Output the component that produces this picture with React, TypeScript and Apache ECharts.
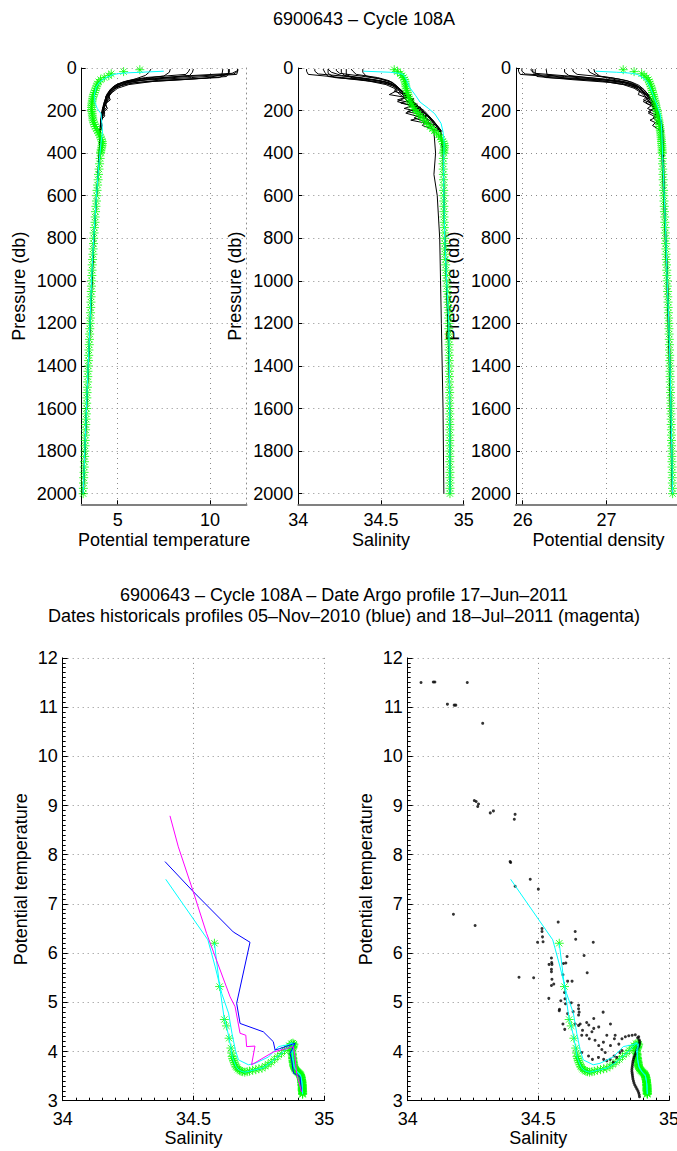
import React, { useEffect, useRef } from 'react';
import * as echarts from 'echarts';

// ---------- tick values ----------
const pressureTicks = [0, 200, 400, 600, 800, 1000, 1200, 1400, 1600, 1800, 2000];
const tempTicks = [5, 10];
const salTicks = [34, 34.5, 35];
const densTicks = [26, 27];

// ---------- Argo profile (green stars) ----------
const argoP = [8, 17, 27, 36, 45, 55, 65, 75, 85, 95,
  105, 115, 125, 135, 145, 155, 165, 175, 185, 195,
  205, 215, 225, 235, 245, 255, 265, 275, 285, 295,
  305, 315, 325, 335, 345, 355, 365, 375, 385, 395,
  400, 425, 450, 475, 500, 525, 550, 575, 600, 625,
  650, 675, 700, 725, 750, 775, 800, 825, 850, 875,
  900, 925, 950, 975, 1000, 1025, 1050, 1075, 1100, 1125,
  1150, 1175, 1200, 1225, 1250, 1275, 1300, 1325, 1350, 1375,
  1400, 1425, 1450, 1475, 1500, 1525, 1550, 1575, 1600, 1625,
  1650, 1675, 1700, 1725, 1750, 1775, 1800, 1825, 1850, 1875,
  1900, 1925, 1950, 1975, 2000];
const argoT = [6.20, 5.32, 4.65, 4.52, 4.27, 4.07, 3.97, 3.90, 3.86, 3.82,
  3.78, 3.74, 3.70, 3.67, 3.64, 3.62, 3.60, 3.59, 3.58, 3.59,
  3.60, 3.62, 3.63, 3.65, 3.66, 3.70, 3.74, 3.78, 3.84, 3.90,
  3.96, 4.02, 4.07, 4.12, 4.16, 4.17, 4.15, 4.13, 4.10, 4.08,
  4.07, 4.05, 4.02, 3.99, 3.96, 3.94, 3.91, 3.88, 3.86, 3.85,
  3.82, 3.80, 3.78, 3.77, 3.74, 3.72, 3.70, 3.69, 3.67, 3.66,
  3.64, 3.62, 3.61, 3.60, 3.59, 3.58, 3.57, 3.56, 3.55, 3.54,
  3.53, 3.52, 3.51, 3.49, 3.48, 3.47, 3.46, 3.44, 3.43, 3.42,
  3.41, 3.39, 3.38, 3.37, 3.36, 3.34, 3.33, 3.32, 3.31, 3.30,
  3.29, 3.27, 3.26, 3.25, 3.24, 3.23, 3.22, 3.21, 3.20, 3.19,
  3.18, 3.16, 3.15, 3.14, 3.13];
const argoS = [34.580, 34.600, 34.618, 34.626, 34.636, 34.643, 34.646, 34.648, 34.650, 34.653,
  34.656, 34.659, 34.662, 34.666, 34.670, 34.676, 34.682, 34.688, 34.696, 34.705,
  34.714, 34.726, 34.738, 34.750, 34.762, 34.774, 34.785, 34.797, 34.810, 34.822,
  34.836, 34.848, 34.858, 34.866, 34.874, 34.880, 34.884, 34.883, 34.881, 34.879,
  34.879, 34.877, 34.875, 34.876, 34.877, 34.878, 34.878, 34.879, 34.879, 34.880,
  34.880, 34.881, 34.881, 34.882, 34.883, 34.883, 34.884, 34.885, 34.886, 34.887,
  34.889, 34.891, 34.893, 34.895, 34.897, 34.899, 34.901, 34.903, 34.905, 34.907,
  34.908, 34.909, 34.910, 34.910, 34.911, 34.911, 34.912, 34.912, 34.913, 34.913,
  34.914, 34.914, 34.914, 34.914, 34.915, 34.915, 34.915, 34.915, 34.915, 34.916,
  34.916, 34.916, 34.916, 34.916, 34.916, 34.916, 34.916, 34.916, 34.916, 34.917,
  34.917, 34.917, 34.917, 34.917, 34.917];
const argoD = [27.20, 27.33, 27.42, 27.45, 27.48, 27.50, 27.51, 27.52, 27.53, 27.54,
  27.545, 27.55, 27.56, 27.565, 27.57, 27.58, 27.585, 27.59, 27.595, 27.60,
  27.605, 27.61, 27.615, 27.62, 27.625, 27.63, 27.633, 27.636, 27.64, 27.643,
  27.646, 27.649, 27.652, 27.655, 27.657, 27.659, 27.661, 27.663, 27.664, 27.665,
  27.665, 27.667, 27.67, 27.672, 27.675, 27.677, 27.68, 27.682, 27.685, 27.687,
  27.69, 27.692, 27.695, 27.697, 27.70, 27.702, 27.705, 27.707, 27.71, 27.712,
  27.715, 27.717, 27.72, 27.722, 27.725, 27.727, 27.73, 27.732, 27.735, 27.737,
  27.74, 27.742, 27.745, 27.746, 27.748, 27.75, 27.752, 27.753, 27.755, 27.756,
  27.758, 27.759, 27.76, 27.762, 27.763, 27.765, 27.766, 27.768, 27.769, 27.77,
  27.772, 27.773, 27.775, 27.776, 27.777, 27.778, 27.78, 27.781, 27.782, 27.784,
  27.785, 27.786, 27.787, 27.789, 27.79];

// ---------- reference (cyan) profile ----------
const climP = [15, 20, 22, 25, 30, 45, 65, 90, 130, 160, 190, 215, 260, 300, 350, 450, 600, 800, 1000, 1200, 1500, 1750, 2000];
const climT = [7.50, 6.27, 5.72, 5.18, 4.78, 4.37, 4.03, 3.83, 3.73, 3.76, 3.89, 4.10, 4.14, 4.18, 4.10, 3.98, 3.85, 3.70, 3.58, 3.50, 3.35, 3.24, 3.13];
const climS = [34.394, 34.555, 34.583, 34.608, 34.634, 34.647, 34.66, 34.672, 34.71, 34.736, 34.787, 34.825, 34.863, 34.875, 34.882, 34.879, 34.88, 34.885, 34.897, 34.91, 34.915, 34.916, 34.917];
const climD = [26.87, 27.12, 27.22, 27.30, 27.37, 27.43, 27.49, 27.52, 27.56, 27.59, 27.62, 27.64, 27.655, 27.66, 27.665, 27.675, 27.69, 27.71, 27.725, 27.745, 27.765, 27.778, 27.79];

// ---------- historical profiles (black lines) ----------
const histP = [
  [5, 15, 30, 45, 58, 72, 90, 112, 140, 175, 210, 260, 300],
  [5, 15, 28, 40, 55, 70, 90, 110, 130, 150, 170, 190, 210, 235, 260, 300, 400, 600, 800, 1000, 1300, 1600, 2000],
  [5, 20, 40, 55, 68, 82, 100, 122, 150, 180, 215, 250, 290],
  [5, 25, 45, 58, 72, 88, 105, 125, 145, 165, 185, 205, 225, 245, 270, 300],
  [5, 12, 25, 38, 52, 68, 88, 110, 135, 165, 200, 250, 300, 400],
  [5, 30, 48, 62, 78, 95, 115, 140, 175, 210, 255, 300, 400, 500, 600, 800, 1000, 1200, 1400, 1600, 2000],
  [5, 20, 35, 50, 63, 78, 95, 118, 145, 178, 215, 260, 300],
  [5, 15, 30, 45, 60, 75, 92, 112, 135, 158, 185, 212, 240, 270, 300],
  [5, 20, 38, 52, 66, 82, 102, 130, 165, 200, 245, 290, 400, 700, 1000, 1500, 2000],
  [5, 20, 35, 50, 65, 82, 100, 125, 160, 200, 250, 300],
];
const histT = [
  [11.5, 11.5, 11.45, 9.0, 6.2, 5.2, 4.8, 4.55, 4.4, 4.25, 4.15, 4.08, 4.05],
  [11.5, 11.5, 11.3, 8.8, 6.5, 5.5, 4.9, 4.7, 4.5, 4.6, 4.3, 4.45, 4.2, 4.15, 4.1, 4.05, 4.0, 3.86, 3.7, 3.6, 3.45, 3.3, 3.12],
  [11.05, 11.05, 10.9, 8.5, 6.0, 5.2, 4.8, 4.6, 4.45, 4.3, 4.2, 4.12, 4.1],
  [11.0, 11.0, 10.5, 7.2, 5.6, 5.0, 4.7, 4.5, 4.55, 4.35, 4.4, 4.2, 4.3, 4.1, 4.15, 4.05],
  [11.5, 11.5, 11.2, 8.5, 6.3, 5.3, 4.85, 4.6, 4.4, 4.3, 4.18, 4.1, 4.05, 4.02],
  [10.7, 10.65, 9.8, 7.0, 5.6, 5.0, 4.7, 4.45, 4.3, 4.2, 4.1, 4.05, 4.0, 3.95, 3.85, 3.72, 3.62, 3.52, 3.42, 3.32, 3.14],
  [9.1, 9.05, 8.9, 7.0, 5.8, 5.1, 4.75, 4.55, 4.4, 4.25, 4.15, 4.08, 4.05],
  [8.9, 8.85, 8.7, 6.5, 5.5, 5.0, 4.7, 4.55, 4.35, 4.45, 4.2, 4.3, 4.1, 4.12, 4.05],
  [7.85, 7.8, 7.5, 6.2, 5.3, 4.85, 4.6, 4.4, 4.25, 4.15, 4.08, 4.04, 4.0, 3.78, 3.6, 3.36, 3.14],
  [6.8, 6.7, 6.5, 6.0, 5.4, 4.9, 4.6, 4.4, 4.28, 4.18, 4.1, 4.05],
];
const histS = [
  [34.05, 34.05, 34.06, 34.26, 34.48, 34.56, 34.6, 34.63, 34.66, 34.7, 34.76, 34.82, 34.86],
  [34.10, 34.10, 34.12, 34.3, 34.45, 34.55, 34.6, 34.58, 34.68, 34.6, 34.72, 34.64, 34.76, 34.7, 34.8, 34.86, 34.875, 34.88, 34.885, 34.895, 34.91, 34.915, 34.917],
  [34.15, 34.16, 34.18, 34.35, 34.5, 34.57, 34.6, 34.63, 34.65, 34.69, 34.74, 34.8, 34.86],
  [34.18, 34.18, 34.22, 34.42, 34.53, 34.58, 34.6, 34.55, 34.7, 34.62, 34.74, 34.66, 34.78, 34.68, 34.84, 34.87],
  [34.23, 34.23, 34.25, 34.38, 34.5, 34.57, 34.6, 34.62, 34.66, 34.7, 34.76, 34.82, 34.86, 34.875],
  [34.29, 34.29, 34.33, 34.43, 34.53, 34.58, 34.6, 34.64, 34.69, 34.75, 34.79, 34.82, 34.83, 34.82, 34.84, 34.855, 34.86, 34.865, 34.87, 34.875, 34.88],
  [34.26, 34.26, 34.28, 34.42, 34.52, 34.57, 34.6, 34.62, 34.67, 34.71, 34.77, 34.83, 34.86],
  [34.32, 34.33, 34.35, 34.48, 34.55, 34.58, 34.6, 34.63, 34.66, 34.6, 34.72, 34.65, 34.78, 34.75, 34.86],
  [34.39, 34.39, 34.41, 34.5, 34.56, 34.59, 34.62, 34.66, 34.7, 34.75, 34.81, 34.86, 34.877, 34.882, 34.896, 34.915, 34.917],
  [34.18, 34.2, 34.26, 34.4, 34.52, 34.58, 34.61, 34.65, 34.7, 34.75, 34.81, 34.86],
];
const histD = [
  [25.95, 25.95, 25.97, 26.47, 27.02, 27.28, 27.38, 27.45, 27.5, 27.56, 27.61, 27.65, 27.67],
  [25.99, 25.99, 26.03, 26.5, 26.95, 27.22, 27.36, 27.4, 27.5, 27.44, 27.56, 27.49, 27.6, 27.56, 27.63, 27.66, 27.67, 27.69, 27.71, 27.73, 27.755, 27.77, 27.79],
  [26.12, 26.12, 26.17, 26.6, 27.05, 27.28, 27.38, 27.45, 27.49, 27.55, 27.6, 27.64, 27.67],
  [26.15, 26.15, 26.28, 26.9, 27.18, 27.33, 27.4, 27.38, 27.52, 27.47, 27.58, 27.5, 27.62, 27.52, 27.66, 27.68],
  [26.1, 26.1, 26.15, 26.55, 26.98, 27.26, 27.38, 27.44, 27.51, 27.56, 27.61, 27.65, 27.67, 27.68],
  [26.28, 26.29, 26.5, 26.95, 27.2, 27.33, 27.41, 27.48, 27.55, 27.6, 27.63, 27.65, 27.66, 27.67, 27.68, 27.7, 27.72, 27.735, 27.75, 27.76, 27.785],
  [26.5, 26.5, 26.55, 26.9, 27.15, 27.3, 27.39, 27.45, 27.53, 27.58, 27.62, 27.66, 27.67],
  [26.6, 26.6, 26.65, 27.05, 27.25, 27.33, 27.4, 27.45, 27.52, 27.44, 27.58, 27.5, 27.63, 27.55, 27.67],
  [26.85, 26.86, 26.92, 27.15, 27.3, 27.39, 27.45, 27.51, 27.57, 27.61, 27.65, 27.67, 27.68, 27.7, 27.73, 27.765, 27.79],
  [26.78, 26.8, 26.88, 27.05, 27.22, 27.36, 27.44, 27.5, 27.56, 27.61, 27.65, 27.67],
];

// ---------- dated historical profiles (T-S) ----------
const blueS = [34.391, 34.499, 34.652, 34.716, 34.665, 34.678, 34.767, 34.805, 34.812, 34.83, 34.869, 34.888, 34.869, 34.875, 34.882, 34.907, 34.913];
const blueT = [7.86, 7.25, 6.43, 6.22, 4.98, 4.57, 4.40, 4.20, 4.03, 4.06, 4.13, 4.17, 3.96, 3.83, 3.56, 3.49, 3.18];
const magS = [34.41, 34.442, 34.499, 34.55, 34.64, 34.659, 34.678, 34.70, 34.703, 34.735, 34.722, 34.805, 34.856, 34.882, 34.888, 34.894, 34.913];
const magT = [8.79, 8.16, 7.25, 6.40, 5.11, 4.91, 4.37, 4.33, 4.10, 4.11, 3.73, 3.99, 4.06, 4.10, 3.90, 3.56, 3.18];

// ---------- historical data points (black dots, T-S) ----------
const dotS = [34.051, 34.098, 34.104, 34.152, 34.178, 34.184, 34.228, 34.287, 34.255, 34.262, 34.271, 34.268, 34.316, 34.328, 34.411, 34.408,
  34.392, 34.394, 34.411, 34.469, 34.50, 34.175, 34.258, 34.576, 34.514, 34.514, 34.516, 34.518, 34.497, 34.641, 34.643, 34.710,
  34.675, 34.610, 34.605, 34.596, 34.550, 34.551, 34.552, 34.541, 34.550, 34.550, 34.552, 34.550, 34.559, 34.612, 34.629, 34.594,
  34.687, 34.426, 34.482, 34.540, 34.586, 34.581, 34.580, 34.600, 34.602, 34.604, 34.626, 34.654, 34.654, 34.656, 34.654, 34.633,
  34.594, 34.601, 34.612, 34.641, 34.654, 34.660, 34.685, 34.693, 34.712, 34.748, 34.712, 34.731, 34.776, 34.669, 34.666, 34.685,
  34.695, 34.705, 34.717, 34.749, 34.762, 34.794, 34.791, 34.731, 34.743, 34.756, 34.776, 34.808, 34.820, 34.833, 34.846, 34.859,
  34.871, 34.884, 34.790, 34.800, 34.812, 34.820, 34.666, 34.692, 34.707, 34.730, 34.750, 34.762, 34.775, 34.787,
  34.880, 34.886, 34.888, 34.887, 34.885, 34.882, 34.878, 34.875, 34.872, 34.869, 34.866, 34.864, 34.862, 34.861, 34.860, 34.859,
  34.858, 34.858, 34.859, 34.860, 34.861, 34.862, 34.864, 34.866, 34.869, 34.873, 34.877, 34.881, 34.884, 34.886, 34.887];
const dotT = [11.50, 11.51, 11.51, 11.06, 11.04, 11.04, 11.50, 10.67, 9.10, 9.08, 9.03, 8.98, 8.85, 8.89, 8.82, 8.72,
  7.86, 7.84, 7.36, 7.50, 7.30, 6.79, 6.56, 6.63, 6.50, 6.44, 6.33, 6.23, 6.22, 6.44, 6.28, 6.22,
  5.95, 5.93, 5.80, 5.79, 5.90, 5.81, 5.77, 5.77, 5.67, 5.62, 5.47, 5.34, 5.37, 5.43, 5.43, 5.56,
  5.60, 5.51, 5.50, 5.08, 5.03, 4.86, 4.83, 5.20, 5.07, 4.97, 4.99, 4.94, 4.87, 4.80, 4.74, 4.81,
  4.56, 4.45, 4.77, 4.56, 4.53, 4.56, 4.59, 4.54, 4.67, 4.80, 4.47, 4.50, 4.56, 4.43, 4.33, 4.33,
  4.26, 4.40, 4.23, 4.19, 4.33, 4.33, 4.26, 4.12, 4.04, 3.98, 4.12, 4.15, 4.26, 4.30, 4.32, 4.33,
  4.34, 4.30, 3.91, 3.88, 3.98, 4.02, 3.98, 3.91, 3.84, 3.88, 3.84, 3.81, 3.84, 3.78,
  4.28, 4.24, 4.20, 4.16, 4.12, 4.08, 4.04, 4.00, 3.96, 3.92, 3.88, 3.84, 3.80, 3.76, 3.72, 3.68,
  3.64, 3.60, 3.56, 3.52, 3.48, 3.44, 3.40, 3.36, 3.32, 3.28, 3.24, 3.20, 3.16, 3.12, 3.08];

const FONT = 'Liberation Sans';
const STAR = 'path://M5,0L5,10M0,5L10,5M1.5,1.5L8.5,8.5M1.5,8.5L8.5,1.5';
const GRID_LINE = { show: true, lineStyle: { color: '#8c8c8c', width: 1, type: [1, 4] } };
const TXT = { color: '#000', fontSize: 18, fontFamily: FONT };
const plain = (v: number) => String(v);

const pairs = (xs: number[], ys: number[]) => xs.map((x, i) => [x, ys[i]]);

function topX(gridIndex: number, min: number, max: number, ticks: number[], name: string) {
  return {
    type: 'value', gridIndex, min, max,
    axisLine: { show: true, onZero: false, lineStyle: { color: '#808080', width: 2 } },
    axisTick: { show: true, inside: true, length: 4, customValues: ticks, lineStyle: { color: '#000' } },
    axisLabel: { ...TXT, customValues: ticks, margin: 7, formatter: plain },
    splitLine: GRID_LINE,
    name, nameLocation: 'middle', nameGap: 27, nameTextStyle: TXT,
  };
}
function topY(gridIndex: number) {
  return {
    type: 'value', gridIndex, min: 0, max: 2050, inverse: true,
    axisLine: { show: true, onZero: false, lineStyle: { color: '#000', width: 1 } },
    axisTick: { show: true, inside: true, length: 4, customValues: pressureTicks, lineStyle: { color: '#000' } },
    axisLabel: { ...TXT, customValues: pressureTicks, margin: 5, formatter: plain },
    splitLine: GRID_LINE,
    name: 'Pressure (db)', nameLocation: 'middle', nameGap: 54, nameTextStyle: TXT,
  };
}
function botX(gridIndex: number) {
  return {
    type: 'value', gridIndex, min: 34, max: 35, interval: 0.5,
    axisLine: { show: true, onZero: false, lineStyle: { color: '#000', width: 1 } },
    axisTick: { show: true, inside: true, length: 5, lineStyle: { color: '#000' } },
    minorTick: { show: true, splitNumber: 10, length: 3, lineStyle: { color: '#000' } },
    axisLabel: { ...TXT, margin: 9, formatter: plain },
    splitLine: GRID_LINE,
    name: 'Salinity', nameLocation: 'middle', nameGap: 27, nameTextStyle: TXT,
  };
}
function botY(gridIndex: number) {
  return {
    type: 'value', gridIndex, min: 3, max: 12, interval: 1,
    axisLine: { show: true, onZero: false, lineStyle: { color: '#000', width: 1 } },
    axisTick: { show: true, inside: true, length: 5, lineStyle: { color: '#000' } },
    minorTick: { show: true, splitNumber: 10, length: 3, lineStyle: { color: '#000' } },
    axisLabel: { ...TXT, margin: 5, formatter: plain },
    splitLine: GRID_LINE,
    name: 'Potential temperature', nameLocation: 'middle', nameGap: 33, nameTextStyle: TXT,
  };
}

function line(ax: number, data: number[][], color: string, z = 2) {
  return { type: 'line', xAxisIndex: ax, yAxisIndex: ax, data, showSymbol: false, symbol: 'none', silent: true, z,
    lineStyle: { color, width: 1 } };
}
function stars(ax: number, data: number[][]) {
  return { type: 'scatter', xAxisIndex: ax, yAxisIndex: ax, data, symbol: STAR, symbolSize: 9, silent: true, z: 2,
    itemStyle: { color: 'rgba(0,0,0,0)', borderColor: '#00ff00', borderWidth: 1 } };
}

export default function App() {
  const ref = useRef<HTMLDivElement>(null);
  useEffect(() => {
    if (!ref.current) return;
    const chart = echarts.init(ref.current, undefined, { renderer: 'svg' });
    const series: any[] = [];
    const topSets = [
      { h: histT, a: argoT, c: climT },
      { h: histS, a: argoS, c: climS },
      { h: histD, a: argoD, c: climD },
    ];
    topSets.forEach((set, k) => {
      set.h.forEach((xs, j) => series.push(line(k, pairs(xs, histP[j]), '#000000')));
      series.push(stars(k, pairs(set.a, argoP)));
      series.push(line(k, pairs(set.c, climP), '#00ffff', 3));
    });
    // bottom left T-S
    series.push(stars(3, pairs(argoS, argoT)));
    series.push(line(3, pairs(argoS, argoT), '#00ffff', 3));
    series.push(line(3, pairs(climS, climT), '#00ffff', 3));
    series.push(line(3, pairs(blueS, blueT), '#0000ff', 4));
    series.push(line(3, pairs(magS, magT), '#ff00ff', 4));
    // bottom right T-S
    series.push(stars(4, pairs(argoS, argoT)));
    series.push({ type: 'scatter', xAxisIndex: 4, yAxisIndex: 4, data: pairs(dotS, dotT), symbol: 'circle', symbolSize: 3,
      silent: true, z: 3, itemStyle: { color: '#000' } });
    series.push(line(4, pairs(argoS, argoT), '#00ffff', 4));
    series.push(line(4, pairs(climS, climT), '#00ffff', 4));

    const grids = [
      { left: 81.7, top: 68, width: 164.8, height: 436.3 },
      { left: 298.3, top: 68, width: 165.4, height: 436.3 },
      { left: 516, top: 68, width: 165, height: 436.3 },
      { left: 62.7, top: 657.9, width: 261.6, height: 442.8 },
      { left: 407.7, top: 657.9, width: 261.3, height: 442.8 },
    ].map((g) => ({ ...g, containLabel: false, outerBoundsMode: 'none' }));

    const option: any = {
      animation: false,
      backgroundColor: '#ffffff',
      textStyle: { fontFamily: FONT },
      grid: grids,
      xAxis: [
        topX(0, 3.05, 11.98, tempTicks, 'Potential temperature'),
        topX(1, 34, 35, salTicks, 'Salinity'),
        topX(2, 25.92, 27.89, densTicks, 'Potential density'),
        botX(3),
        botX(4),
      ],
      yAxis: [
        topY(0), topY(1), topY(2), botY(3), botY(4),
        {
          type: 'value', gridIndex: 0, position: 'right', min: 0, max: 2050, inverse: true,
          axisLine: { show: true, onZero: false, lineStyle: { color: '#8c8c8c', width: 1, type: [1, 4] } },
          axisTick: { show: false }, axisLabel: { show: false }, splitLine: { show: false },
        },
      ],
      series,
      graphic: [
        { type: 'text', x: 364, y: 19, style: { text: '6900643 – Cycle 108A', fill: '#000', font: `18px "${FONT}"`, textAlign: 'center', textVerticalAlign: 'middle' } },
        { type: 'text', x: 344, y: 595, style: { text: '6900643 – Cycle 108A – Date Argo profile 17–Jun–2011', fill: '#000', font: `18px "${FONT}"`, textAlign: 'center', textVerticalAlign: 'middle' } },
        { type: 'text', x: 344, y: 616, style: { text: 'Dates historicals profiles 05–Nov–2010 (blue) and 18–Jul–2011 (magenta)', fill: '#000', font: `18px "${FONT}"`, textAlign: 'center', textVerticalAlign: 'middle' } },
      ],
    };
    chart.setOption(option);
    return () => chart.dispose();
  }, []);
  return <div ref={ref} style={{ position: 'absolute', left: 0, top: 0, width: 677, height: 1151, background: '#fff' }} />;
}
